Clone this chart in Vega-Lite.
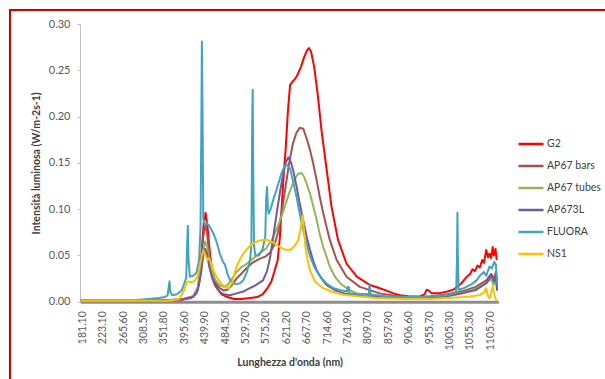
{
  "$schema": "https://vega.github.io/schema/vega-lite/v6.json",
  "autosize": "none",
  "padding": {"left": 10, "top": 10, "right": 0, "bottom": 0},
  "width": 598,
  "height": 372,
  "background": "white",
  "config": {
    "view": {"stroke": "#d40000", "strokeWidth": 2},
    "font": "Lato"
  },
  "data": {"values": [
    {"s":"G2","w":178,"v":0.001},{"s":"G2","w":300,"v":0.001},{"s":"G2","w":350,"v":0.0015},{"s":"G2","w":390,"v":0.002},{"s":"G2","w":410,"v":0.004},{"s":"G2","w":422,"v":0.009},{"s":"G2","w":428,"v":0.02},{"s":"G2","w":433,"v":0.05},{"s":"G2","w":438,"v":0.085},{"s":"G2","w":442,"v":0.096},{"s":"G2","w":446,"v":0.082},{"s":"G2","w":451,"v":0.055},{"s":"G2","w":456,"v":0.035},{"s":"G2","w":462,"v":0.022},{"s":"G2","w":468,"v":0.014},{"s":"G2","w":477,"v":0.008},{"s":"G2","w":490,"v":0.005},{"s":"G2","w":505,"v":0.003},{"s":"G2","w":520,"v":0.003},{"s":"G2","w":540,"v":0.004},{"s":"G2","w":556,"v":0.005},{"s":"G2","w":568,"v":0.008},{"s":"G2","w":578,"v":0.014},{"s":"G2","w":588,"v":0.022},{"s":"G2","w":596,"v":0.035},{"s":"G2","w":602,"v":0.045},{"s":"G2","w":607,"v":0.07},{"s":"G2","w":612,"v":0.11},{"s":"G2","w":616,"v":0.14},{"s":"G2","w":620,"v":0.165},{"s":"G2","w":625,"v":0.205},{"s":"G2","w":630,"v":0.234},{"s":"G2","w":636,"v":0.238},{"s":"G2","w":642,"v":0.241},{"s":"G2","w":648,"v":0.246},{"s":"G2","w":655,"v":0.254},{"s":"G2","w":662,"v":0.264},{"s":"G2","w":668,"v":0.271},{"s":"G2","w":673,"v":0.274},{"s":"G2","w":678,"v":0.27},{"s":"G2","w":685,"v":0.254},{"s":"G2","w":693,"v":0.225},{"s":"G2","w":702,"v":0.185},{"s":"G2","w":714,"v":0.142},{"s":"G2","w":725,"v":0.103},{"s":"G2","w":740,"v":0.067},{"s":"G2","w":760,"v":0.041},{"s":"G2","w":784,"v":0.027},{"s":"G2","w":815,"v":0.018},{"s":"G2","w":838,"v":0.0145},{"s":"G2","w":854,"v":0.012},{"s":"G2","w":870,"v":0.009},{"s":"G2","w":886,"v":0.007},{"s":"G2","w":905,"v":0.006},{"s":"G2","w":918,"v":0.0055},{"s":"G2","w":935,"v":0.006},{"s":"G2","w":945,"v":0.008},{"s":"G2","w":950,"v":0.013},{"s":"G2","w":955,"v":0.012},{"s":"G2","w":962,"v":0.009},{"s":"G2","w":975,"v":0.009},{"s":"G2","w":990,"v":0.01},{"s":"G2","w":1000,"v":0.011},{"s":"G2","w":1015,"v":0.013},{"s":"G2","w":1023,"v":0.0155},{"s":"G2","w":1035,"v":0.02},{"s":"G2","w":1048,"v":0.027},{"s":"G2","w":1056,"v":0.03},{"s":"G2","w":1062,"v":0.035},{"s":"G2","w":1068,"v":0.033},{"s":"G2","w":1074,"v":0.039},{"s":"G2","w":1080,"v":0.037},{"s":"G2","w":1086,"v":0.045},{"s":"G2","w":1090,"v":0.042},{"s":"G2","w":1096,"v":0.056},{"s":"G2","w":1100,"v":0.048},{"s":"G2","w":1104,"v":0.052},{"s":"G2","w":1108,"v":0.047},{"s":"G2","w":1112,"v":0.059},{"s":"G2","w":1115,"v":0.05},{"s":"G2","w":1119,"v":0.057},{"s":"G2","w":1122,"v":0.045},

    {"s":"AP67 bars","w":178,"v":0.001},{"s":"AP67 bars","w":300,"v":0.001},{"s":"AP67 bars","w":360,"v":0.0015},{"s":"AP67 bars","w":395,"v":0.003},{"s":"AP67 bars","w":415,"v":0.006},{"s":"AP67 bars","w":425,"v":0.015},{"s":"AP67 bars","w":432,"v":0.04},{"s":"AP67 bars","w":437,"v":0.07},{"s":"AP67 bars","w":441,"v":0.083},{"s":"AP67 bars","w":445,"v":0.075},{"s":"AP67 bars","w":450,"v":0.052},{"s":"AP67 bars","w":456,"v":0.034},{"s":"AP67 bars","w":463,"v":0.022},{"s":"AP67 bars","w":472,"v":0.015},{"s":"AP67 bars","w":482,"v":0.012},{"s":"AP67 bars","w":490,"v":0.013},{"s":"AP67 bars","w":500,"v":0.018},{"s":"AP67 bars","w":510,"v":0.025},{"s":"AP67 bars","w":520,"v":0.03},{"s":"AP67 bars","w":530,"v":0.035},{"s":"AP67 bars","w":545,"v":0.042},{"s":"AP67 bars","w":560,"v":0.046},{"s":"AP67 bars","w":575,"v":0.049},{"s":"AP67 bars","w":585,"v":0.053},{"s":"AP67 bars","w":595,"v":0.062},{"s":"AP67 bars","w":603,"v":0.075},{"s":"AP67 bars","w":612,"v":0.1},{"s":"AP67 bars","w":620,"v":0.125},{"s":"AP67 bars","w":628,"v":0.15},{"s":"AP67 bars","w":636,"v":0.17},{"s":"AP67 bars","w":644,"v":0.182},{"s":"AP67 bars","w":652,"v":0.188},{"s":"AP67 bars","w":660,"v":0.187},{"s":"AP67 bars","w":668,"v":0.176},{"s":"AP67 bars","w":675.5,"v":0.164},{"s":"AP67 bars","w":683,"v":0.149},{"s":"AP67 bars","w":691,"v":0.131},{"s":"AP67 bars","w":698,"v":0.113},{"s":"AP67 bars","w":706,"v":0.0955},{"s":"AP67 bars","w":714,"v":0.08},{"s":"AP67 bars","w":721,"v":0.067},{"s":"AP67 bars","w":737,"v":0.045},{"s":"AP67 bars","w":760,"v":0.027},{"s":"AP67 bars","w":791,"v":0.016},{"s":"AP67 bars","w":838,"v":0.009},{"s":"AP67 bars","w":880,"v":0.006},{"s":"AP67 bars","w":925,"v":0.005},{"s":"AP67 bars","w":960,"v":0.006},{"s":"AP67 bars","w":1000,"v":0.008},{"s":"AP67 bars","w":1040,"v":0.0115},{"s":"AP67 bars","w":1070,"v":0.016},{"s":"AP67 bars","w":1096,"v":0.023},{"s":"AP67 bars","w":1108,"v":0.03},{"s":"AP67 bars","w":1114,"v":0.024},{"s":"AP67 bars","w":1120,"v":0.032},{"s":"AP67 bars","w":1123,"v":0.02},

    {"s":"AP67 tubes","w":178,"v":0.001},{"s":"AP67 tubes","w":300,"v":0.001},{"s":"AP67 tubes","w":360,"v":0.0015},{"s":"AP67 tubes","w":395,"v":0.003},{"s":"AP67 tubes","w":415,"v":0.006},{"s":"AP67 tubes","w":425,"v":0.014},{"s":"AP67 tubes","w":432,"v":0.035},{"s":"AP67 tubes","w":437,"v":0.055},{"s":"AP67 tubes","w":441,"v":0.065},{"s":"AP67 tubes","w":445,"v":0.06},{"s":"AP67 tubes","w":450,"v":0.045},{"s":"AP67 tubes","w":456,"v":0.033},{"s":"AP67 tubes","w":463,"v":0.024},{"s":"AP67 tubes","w":472,"v":0.018},{"s":"AP67 tubes","w":482,"v":0.016},{"s":"AP67 tubes","w":490,"v":0.018},{"s":"AP67 tubes","w":500,"v":0.025},{"s":"AP67 tubes","w":510,"v":0.032},{"s":"AP67 tubes","w":520,"v":0.037},{"s":"AP67 tubes","w":530,"v":0.04},{"s":"AP67 tubes","w":545,"v":0.046},{"s":"AP67 tubes","w":560,"v":0.052},{"s":"AP67 tubes","w":575,"v":0.057},{"s":"AP67 tubes","w":590,"v":0.068},{"s":"AP67 tubes","w":602,"v":0.081},{"s":"AP67 tubes","w":612,"v":0.094},{"s":"AP67 tubes","w":620,"v":0.106},{"s":"AP67 tubes","w":630,"v":0.12},{"s":"AP67 tubes","w":640,"v":0.132},{"s":"AP67 tubes","w":648,"v":0.138},{"s":"AP67 tubes","w":656,"v":0.139},{"s":"AP67 tubes","w":662,"v":0.135},{"s":"AP67 tubes","w":668,"v":0.127},{"s":"AP67 tubes","w":675.5,"v":0.117},{"s":"AP67 tubes","w":683,"v":0.103},{"s":"AP67 tubes","w":691,"v":0.088},{"s":"AP67 tubes","w":698,"v":0.073},{"s":"AP67 tubes","w":706,"v":0.059},{"s":"AP67 tubes","w":714,"v":0.048},{"s":"AP67 tubes","w":721,"v":0.038},{"s":"AP67 tubes","w":733,"v":0.027},{"s":"AP67 tubes","w":745,"v":0.02},{"s":"AP67 tubes","w":765,"v":0.013},{"s":"AP67 tubes","w":784,"v":0.009},{"s":"AP67 tubes","w":820,"v":0.007},{"s":"AP67 tubes","w":870,"v":0.005},{"s":"AP67 tubes","w":920,"v":0.004},{"s":"AP67 tubes","w":960,"v":0.005},{"s":"AP67 tubes","w":1000,"v":0.007},{"s":"AP67 tubes","w":1040,"v":0.01},{"s":"AP67 tubes","w":1070,"v":0.014},{"s":"AP67 tubes","w":1096,"v":0.02},{"s":"AP67 tubes","w":1108,"v":0.025},{"s":"AP67 tubes","w":1114,"v":0.018},{"s":"AP67 tubes","w":1120,"v":0.024},{"s":"AP67 tubes","w":1123,"v":0.012},

    {"s":"AP673L","w":178,"v":0.001},{"s":"AP673L","w":300,"v":0.001},{"s":"AP673L","w":360,"v":0.0015},{"s":"AP673L","w":395,"v":0.003},{"s":"AP673L","w":415,"v":0.005},{"s":"AP673L","w":425,"v":0.012},{"s":"AP673L","w":432,"v":0.03},{"s":"AP673L","w":437,"v":0.05},{"s":"AP673L","w":441,"v":0.057},{"s":"AP673L","w":445,"v":0.052},{"s":"AP673L","w":450,"v":0.038},{"s":"AP673L","w":456,"v":0.026},{"s":"AP673L","w":463,"v":0.017},{"s":"AP673L","w":472,"v":0.011},{"s":"AP673L","w":482,"v":0.008},{"s":"AP673L","w":495,"v":0.007},{"s":"AP673L","w":510,"v":0.009},{"s":"AP673L","w":525,"v":0.011},{"s":"AP673L","w":533,"v":0.013},{"s":"AP673L","w":550,"v":0.017},{"s":"AP673L","w":569,"v":0.023},{"s":"AP673L","w":578,"v":0.033},{"s":"AP673L","w":585,"v":0.048},{"s":"AP673L","w":592,"v":0.07},{"s":"AP673L","w":602,"v":0.103},{"s":"AP673L","w":612,"v":0.132},{"s":"AP673L","w":620,"v":0.15},{"s":"AP673L","w":626,"v":0.156},{"s":"AP673L","w":632,"v":0.151},{"s":"AP673L","w":638,"v":0.14},{"s":"AP673L","w":645,"v":0.124},{"s":"AP673L","w":652,"v":0.106},{"s":"AP673L","w":660,"v":0.088},{"s":"AP673L","w":668,"v":0.07},{"s":"AP673L","w":675.5,"v":0.056},{"s":"AP673L","w":683,"v":0.044},{"s":"AP673L","w":691,"v":0.034},{"s":"AP673L","w":702,"v":0.025},{"s":"AP673L","w":714,"v":0.018},{"s":"AP673L","w":735,"v":0.012},{"s":"AP673L","w":755,"v":0.009},{"s":"AP673L","w":800,"v":0.006},{"s":"AP673L","w":850,"v":0.005},{"s":"AP673L","w":900,"v":0.004},{"s":"AP673L","w":950,"v":0.004},{"s":"AP673L","w":1000,"v":0.006},{"s":"AP673L","w":1040,"v":0.0095},{"s":"AP673L","w":1070,"v":0.0126},{"s":"AP673L","w":1096,"v":0.02},{"s":"AP673L","w":1110,"v":0.029},{"s":"AP673L","w":1115,"v":0.022},{"s":"AP673L","w":1120,"v":0.028},{"s":"AP673L","w":1123,"v":0.012},

    {"s":"FLUORA","w":178,"v":0.001},{"s":"FLUORA","w":290,"v":0.001},{"s":"FLUORA","w":300,"v":0.002},{"s":"FLUORA","w":320,"v":0.003},{"s":"FLUORA","w":340,"v":0.004},{"s":"FLUORA","w":355,"v":0.005},{"s":"FLUORA","w":360,"v":0.007},{"s":"FLUORA","w":362,"v":0.015},{"s":"FLUORA","w":364,"v":0.022},{"s":"FLUORA","w":366,"v":0.01},{"s":"FLUORA","w":370,"v":0.007},{"s":"FLUORA","w":380,"v":0.008},{"s":"FLUORA","w":390,"v":0.012},{"s":"FLUORA","w":396,"v":0.02},{"s":"FLUORA","w":400,"v":0.026},{"s":"FLUORA","w":402,"v":0.06},{"s":"FLUORA","w":403.5,"v":0.082},{"s":"FLUORA","w":405,"v":0.045},{"s":"FLUORA","w":408,"v":0.027},{"s":"FLUORA","w":415,"v":0.028},{"s":"FLUORA","w":422,"v":0.031},{"s":"FLUORA","w":428,"v":0.045},{"s":"FLUORA","w":431,"v":0.08},{"s":"FLUORA","w":433,"v":0.2},{"s":"FLUORA","w":434,"v":0.281},{"s":"FLUORA","w":435.5,"v":0.2},{"s":"FLUORA","w":437,"v":0.09},{"s":"FLUORA","w":440,"v":0.083},{"s":"FLUORA","w":444,"v":0.085},{"s":"FLUORA","w":450,"v":0.082},{"s":"FLUORA","w":459,"v":0.074},{"s":"FLUORA","w":466,"v":0.065},{"s":"FLUORA","w":473,"v":0.052},{"s":"FLUORA","w":480,"v":0.043},{"s":"FLUORA","w":484.5,"v":0.04},{"s":"FLUORA","w":490,"v":0.03},{"s":"FLUORA","w":496,"v":0.023},{"s":"FLUORA","w":503,"v":0.02},{"s":"FLUORA","w":510,"v":0.019},{"s":"FLUORA","w":518,"v":0.02},{"s":"FLUORA","w":525,"v":0.023},{"s":"FLUORA","w":533,"v":0.032},{"s":"FLUORA","w":540,"v":0.045},{"s":"FLUORA","w":543,"v":0.06},{"s":"FLUORA","w":545,"v":0.2},{"s":"FLUORA","w":546,"v":0.229},{"s":"FLUORA","w":547,"v":0.15},{"s":"FLUORA","w":549,"v":0.06},{"s":"FLUORA","w":552,"v":0.05},{"s":"FLUORA","w":560,"v":0.05},{"s":"FLUORA","w":568,"v":0.057},{"s":"FLUORA","w":574,"v":0.07},{"s":"FLUORA","w":576,"v":0.11},{"s":"FLUORA","w":578,"v":0.124},{"s":"FLUORA","w":580,"v":0.1},{"s":"FLUORA","w":582,"v":0.095},{"s":"FLUORA","w":586,"v":0.1},{"s":"FLUORA","w":592,"v":0.11},{"s":"FLUORA","w":600,"v":0.122},{"s":"FLUORA","w":610,"v":0.138},{"s":"FLUORA","w":617,"v":0.146},{"s":"FLUORA","w":622,"v":0.148},{"s":"FLUORA","w":627,"v":0.146},{"s":"FLUORA","w":630,"v":0.144},{"s":"FLUORA","w":637,"v":0.13},{"s":"FLUORA","w":645,"v":0.113},{"s":"FLUORA","w":652,"v":0.095},{"s":"FLUORA","w":660,"v":0.077},{"s":"FLUORA","w":668,"v":0.062},{"s":"FLUORA","w":675.5,"v":0.049},{"s":"FLUORA","w":687,"v":0.036},{"s":"FLUORA","w":699,"v":0.027},{"s":"FLUORA","w":715,"v":0.019},{"s":"FLUORA","w":730,"v":0.0145},{"s":"FLUORA","w":750,"v":0.012},{"s":"FLUORA","w":761,"v":0.011},{"s":"FLUORA","w":763,"v":0.016},{"s":"FLUORA","w":765,"v":0.016},{"s":"FLUORA","w":767,"v":0.009},{"s":"FLUORA","w":790,"v":0.008},{"s":"FLUORA","w":812,"v":0.008},{"s":"FLUORA","w":814,"v":0.019},{"s":"FLUORA","w":816,"v":0.008},{"s":"FLUORA","w":850,"v":0.006},{"s":"FLUORA","w":900,"v":0.005},{"s":"FLUORA","w":950,"v":0.005},{"s":"FLUORA","w":1000,"v":0.007},{"s":"FLUORA","w":1018,"v":0.009},{"s":"FLUORA","w":1022,"v":0.012},{"s":"FLUORA","w":1024,"v":0.05},{"s":"FLUORA","w":1025,"v":0.096},{"s":"FLUORA","w":1026,"v":0.05},{"s":"FLUORA","w":1028,"v":0.013},{"s":"FLUORA","w":1040,"v":0.0145},{"s":"FLUORA","w":1060,"v":0.019},{"s":"FLUORA","w":1072,"v":0.023},{"s":"FLUORA","w":1080,"v":0.028},{"s":"FLUORA","w":1090,"v":0.032},{"s":"FLUORA","w":1096,"v":0.028},{"s":"FLUORA","w":1104,"v":0.038},{"s":"FLUORA","w":1110,"v":0.036},{"s":"FLUORA","w":1116,"v":0.043},{"s":"FLUORA","w":1120,"v":0.04},{"s":"FLUORA","w":1123,"v":0.02},

    {"s":"NS1","w":178,"v":0.001},{"s":"NS1","w":300,"v":0.001},{"s":"NS1","w":360,"v":0.001},{"s":"NS1","w":385,"v":0.003},{"s":"NS1","w":395,"v":0.012},{"s":"NS1","w":400,"v":0.02},{"s":"NS1","w":405,"v":0.022},{"s":"NS1","w":410,"v":0.021},{"s":"NS1","w":418,"v":0.022},{"s":"NS1","w":425,"v":0.028},{"s":"NS1","w":430,"v":0.04},{"s":"NS1","w":435,"v":0.052},{"s":"NS1","w":438,"v":0.055},{"s":"NS1","w":442,"v":0.05},{"s":"NS1","w":446,"v":0.045},{"s":"NS1","w":449,"v":0.047},{"s":"NS1","w":452,"v":0.045},{"s":"NS1","w":458,"v":0.035},{"s":"NS1","w":466,"v":0.027},{"s":"NS1","w":475,"v":0.02},{"s":"NS1","w":484.5,"v":0.016},{"s":"NS1","w":492,"v":0.0145},{"s":"NS1","w":500,"v":0.02},{"s":"NS1","w":510,"v":0.038},{"s":"NS1","w":518,"v":0.046},{"s":"NS1","w":525,"v":0.052},{"s":"NS1","w":535,"v":0.058},{"s":"NS1","w":547,"v":0.063},{"s":"NS1","w":560,"v":0.066},{"s":"NS1","w":577,"v":0.067},{"s":"NS1","w":592,"v":0.064},{"s":"NS1","w":607,"v":0.059},{"s":"NS1","w":620,"v":0.056},{"s":"NS1","w":630,"v":0.056},{"s":"NS1","w":640,"v":0.06},{"s":"NS1","w":649,"v":0.067},{"s":"NS1","w":655,"v":0.082},{"s":"NS1","w":659,"v":0.094},{"s":"NS1","w":662,"v":0.075},{"s":"NS1","w":666,"v":0.055},{"s":"NS1","w":670,"v":0.045},{"s":"NS1","w":675.5,"v":0.034},{"s":"NS1","w":687,"v":0.0216},{"s":"NS1","w":706,"v":0.0145},{"s":"NS1","w":725,"v":0.011},{"s":"NS1","w":745,"v":0.008},{"s":"NS1","w":784,"v":0.006},{"s":"NS1","w":830,"v":0.004},{"s":"NS1","w":900,"v":0.003},{"s":"NS1","w":960,"v":0.003},{"s":"NS1","w":1000,"v":0.004},{"s":"NS1","w":1040,"v":0.005},{"s":"NS1","w":1060,"v":0.006},{"s":"NS1","w":1080,"v":0.0072},{"s":"NS1","w":1090,"v":0.01},{"s":"NS1","w":1096,"v":0.0145},{"s":"NS1","w":1100,"v":0.006},{"s":"NS1","w":1104,"v":0.0036},{"s":"NS1","w":1108,"v":0.01},{"s":"NS1","w":1112,"v":0.0166},{"s":"NS1","w":1116,"v":0.008},{"s":"NS1","w":1120,"v":0.002},{"s":"NS1","w":1123,"v":0.001}
  ]},
  "mark": {"type": "line", "strokeWidth": 2, "strokeJoin": "round", "clip": true},
  "encoding": {
    "x": {
      "field": "w", "type": "quantitative",
      "scale": {
        "domain": [177, 181.1, 223.1, 265.6, 308.5, 351.8, 395.6, 439.9, 484.5, 529.7, 575.2, 621.2, 667.7, 714.6, 761.9, 809.7, 857.9, 906.6, 955.7, 1005.3, 1055.3, 1105.7, 1126],
        "range": [70.2, 72.2, 92.6, 113.0, 133.4, 153.8, 174.2, 194.6, 215.0, 235.4, 255.8, 276.2, 296.6, 317.0, 337.4, 357.8, 378.2, 398.6, 419.0, 439.4, 459.8, 480.2, 488.3],
        "nice": false, "zero": false
      },
      "axis": {
        "orient": "bottom", "offset": -80.3,
        "values": [181.1, 223.1, 265.6, 308.5, 351.8, 395.6, 439.9, 484.5, 529.7, 575.2, 621.2, 667.7, 714.6, 761.9, 809.7, 857.9, 906.6, 955.7, 1005.3, 1055.3, 1105.7],
        "format": ".2f", "labelAngle": -90, "labelAlign": "right", "labelBaseline": "middle",
        "labelPadding": 9, "ticks": false, "tickSize": 0, "grid": false,
        "domainColor": "#8c8c8c", "domainWidth": 3,
        "labelFont": "Lato", "labelFontSize": 10.5, "labelColor": "#595959", "labelOverlap": false, "labelFlush": false,
        "title": "Lunghezza d'onda (nm)", "titleFont": "Lato", "titleFontSize": 10.5, "titleFontWeight": "bold", "titleColor": "#404040",
        "titleX": 279.6, "titleY": 61, "titleAlign": "center", "titleBaseline": "middle", "zindex": 0
      }
    },
    "y": {
      "field": "v", "type": "quantitative",
      "scale": {"domain": [0, 0.3], "range": [291.7, 14], "nice": false, "zero": false},
      "axis": {
        "orient": "left", "offset": -70,
        "values": [0, 0.05, 0.1, 0.15, 0.2, 0.25, 0.3],
        "format": ".2f", "grid": false, "tickSize": 3, "tickColor": "#bfbfbf",
        "domainColor": "#bfbfbf", "domainWidth": 1, "labelPadding": 7,
        "labelFont": "Lato", "labelFontSize": 11, "labelColor": "#595959",
        "title": "Intensità luminosa (W/m-2s-1)", "titleFont": "Lato", "titleFontSize": 10.5, "titleFontWeight": "bold", "titleColor": "#404040",
        "titleAngle": -90, "titleX": -43.3, "titleY": 152.85, "titleAlign": "center", "titleBaseline": "middle", "zindex": 0
      }
    },
    "color": {
      "field": "s", "type": "nominal",
      "scale": {
        "domain": ["G2", "AP67 bars", "AP67 tubes", "AP673L", "FLUORA", "NS1"],
        "range": ["#ff0000", "#a5524f", "#93b55a", "#6f5a9c", "#42a3bf", "#ffc000"]
      },
      "legend": {
        "title": null, "orient": "none", "legendX": 507, "legendY": 123.35,
        "symbolType": "stroke", "symbolSize": 625, "symbolStrokeWidth": 2.5,
        "clipHeight": 21.3, "rowPadding": 0, "labelOffset": 2, "padding": 0,
        "labelFont": "Lato", "labelFontSize": 10.5, "labelColor": "#404040"
      }
    }
  }
}
